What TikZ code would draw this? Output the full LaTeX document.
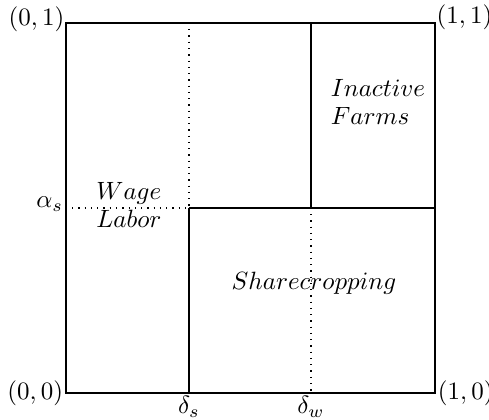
\documentclass[tikz,border=0pt]{standalone}
\begin{document}
\begin{tikzpicture}[x=0.4pt,y=-0.4pt,
  solidline/.style={line width=0.5pt},
  dotline/.style={line width=0.5pt,dotted},
  lbl/.style={inner sep=1pt}]
\useasboundingbox (0,0) rectangle (489,420);
\coordinate (A) at (66,393);   % (0,0)
\coordinate (B) at (435,393);  % (1,0)
\coordinate (C) at (435,23);   % (1,1)
\coordinate (D) at (66,23);    % (0,1)
\coordinate (ds) at (189,393);
\coordinate (dw) at (311,393);
\coordinate (dsTop) at (189,23);
\coordinate (dwTop) at (311,23);
\coordinate (as) at (66,208);
\coordinate (M) at (189,208);
\coordinate (N) at (311,208);
\coordinate (R) at (435,208);
\draw[solidline] (A) -- (B) -- (C) -- (D) -- cycle;
\draw[dotline] (dsTop) -- (M);
\draw[solidline] (M) -- (ds);
\draw[dotline] (as) -- (M);
\draw[solidline] (M) -- (R);
\draw[solidline] (dwTop) -- (N);
\draw[dotline] (N) -- (dw);
\node[lbl,anchor=east] (l00) at (A) {$(0,0)$};
\node[lbl,anchor=west] (l10) at (B) {$(1,0)$};
\node[lbl,anchor=west,inner sep=0.5pt] (l11) at ([yshift=2.4pt]C) {$(1,1)$};
\node[lbl,anchor=east,inner sep=0.5pt] (l01) at ([yshift=1.6pt]D) {$(0,1)$};
\node[lbl,anchor=north] (lds) at (ds) {$\delta_s$};
\node[lbl,anchor=north] (ldw) at (dw) {$\delta_w$};
\node[lbl,anchor=east] (las) at ([yshift=1.5pt]as) {$\alpha_s$};
\node[align=left,inner sep=0pt] (wl) at (129,205) {$Wage$\\[-1pt]$Labor$};
\node[align=left,inner sep=0pt] (ia) at (378,102) {$Inactive$\\[-1pt]$Farms$};
\node[inner sep=0pt] (sc) at (314,283) {$Sharecropping$};
\end{tikzpicture}
\end{document}
